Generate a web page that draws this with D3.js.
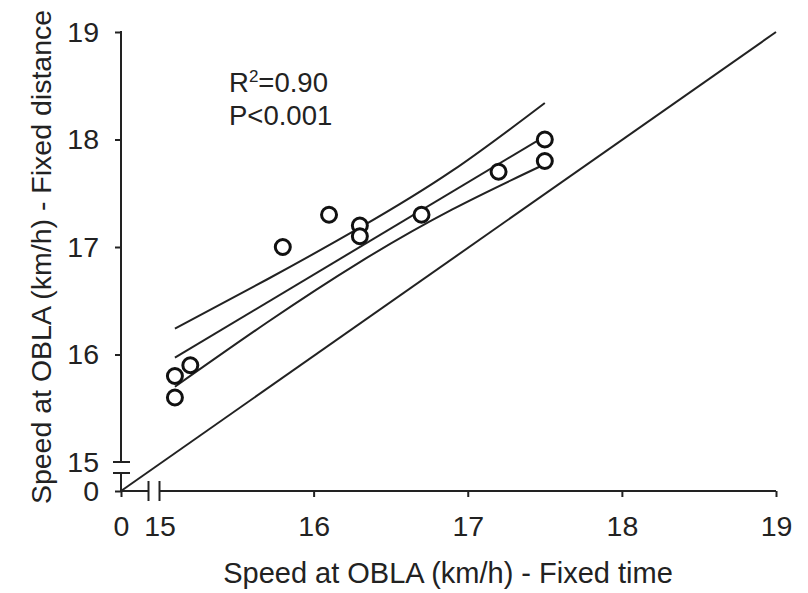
<!DOCTYPE html>
<html>
<head>
<meta charset="utf-8">
<script src="https://cdn.jsdelivr.net/npm/d3@7"></script>
<style>
  body { margin: 0; background: #fff; }
  svg text { font-family: "Liberation Sans", Arial, sans-serif; fill: #222; }
</style>
</head>
<body>
<div id="chart"></div>
<script>
// speeds
const timeVals = [15.1, 15.1, 15.2, 15.8, 16.1, 16.3, 16.3, 16.7, 17.2, 17.5, 17.5];
const distVals = [15.6, 15.8, 15.9, 17.0, 17.3, 17.2, 17.1, 17.3, 17.7, 18.0, 17.8];

// regression line and its confidence band
const fitX = [15.1, 17.5];
const fitY = [15.97, 18.03];
const bandX = [15.1, 15.7, 16.3, 16.9, 17.5];
const bandUpper = [16.24, 16.70, 17.18, 17.71, 18.34];
const bandLower = [15.70, 16.30, 16.86, 17.35, 17.77];

// line of identity
const identX = [0, 19];
const identY = [0, 19];

const xTicks = [0, 15, 16, 17, 18, 19];
const yTicks = [0, 15, 16, 17, 18, 19];

const width = 808, height = 593;
const ink = "#222";

const svg = d3.select("#chart").append("svg")
    .attr("width", width)
    .attr("height", height);

// broken axes: 0 sits at the corner, 15..19 is the real range
const x = d3.scaleLinear().domain([0, 15, 19]).range([121, 159.5, 776]);
const y = d3.scaleLinear().domain([0, 15, 19]).range([491, 462, 32]);

const xAxis = d3.axisBottom(x).tickValues(xTicks).tickSize(6).tickSizeOuter(0).tickPadding(19);
const yAxis = d3.axisLeft(y).tickValues(yTicks).tickSize(6).tickSizeOuter(0).tickPadding(16);

const gx = svg.append("g")
    .attr("transform", "translate(0," + y(0) + ")")
    .call(xAxis);
const gy = svg.append("g")
    .attr("transform", "translate(" + x(0) + ",0)")
    .call(yAxis);

[gx, gy].forEach(function(g) {
    g.select(".domain").remove();
    g.selectAll(".tick line").attr("stroke", ink).attr("stroke-width", 2);
    g.selectAll(".tick text").attr("font-size", 28.5).attr("fill", ink);
    // the break marks stand in for the 15 tick
    g.selectAll(".tick").filter(function(d) { return d === 15; }).select("line").remove();
});

// axis lines with gaps
const xb = x(15);
const yb = y(15);
const segs = [
    [x(0), y(0), xb - 11, y(0)],
    [xb, y(0), x(19), y(0)],
    [x(0), y(0), x(0), yb + 11],
    [x(0), yb, x(0), y(19) - 1]
];
svg.selectAll(".axisSeg").data(segs).enter().append("line")
    .attr("x1", d => d[0]).attr("y1", d => d[1])
    .attr("x2", d => d[2]).attr("y2", d => d[3])
    .attr("stroke", ink).attr("stroke-width", 2);

// break marks
const marks = [
    [xb - 11, y(0) - 10, xb - 11, y(0) + 10],
    [xb, y(0) - 10, xb, y(0) + 10],
    [x(0) - 8, yb, x(0) + 9, yb],
    [x(0) - 8, yb + 11, x(0) + 9, yb + 11]
];
svg.selectAll(".breakMark").data(marks).enter().append("line")
    .attr("x1", d => d[0]).attr("y1", d => d[1])
    .attr("x2", d => d[2]).attr("y2", d => d[3])
    .attr("stroke", ink).attr("stroke-width", 2);

// identity
svg.append("path")
    .datum(identX.map((v, i) => [v, identY[i]]))
    .attr("fill", "none").attr("stroke", ink).attr("stroke-width", 2)
    .attr("d", d3.line().x(d => x(d[0])).y(d => y(d[1])));

// fit and band
const curve = d3.line().x(d => x(d[0])).y(d => y(d[1])).curve(d3.curveNatural);
[bandUpper, bandLower].forEach(function(arr) {
    svg.append("path")
        .datum(bandX.map((v, i) => [v, arr[i]]))
        .attr("fill", "none").attr("stroke", ink).attr("stroke-width", 2)
        .attr("d", curve);
});
svg.append("path")
    .datum(fitX.map((v, i) => [v, fitY[i]]))
    .attr("fill", "none").attr("stroke", ink).attr("stroke-width", 2)
    .attr("d", curve);

// points
svg.selectAll(".pt").data(timeVals).enter().append("circle")
    .attr("cx", d => x(d))
    .attr("cy", (d, i) => y(distVals[i]))
    .attr("r", 7.5)
    .attr("fill", "#fff")
    .attr("stroke", "#111")
    .attr("stroke-width", 3);

// stats
const stat = svg.append("text").attr("x", 229).attr("y", 92).attr("font-size", 27.5);
stat.append("tspan").text("R");
stat.append("tspan").attr("font-size", 17).attr("dy", -10).text("2");
stat.append("tspan").attr("dy", 10).text("=0.90");
svg.append("text").attr("x", 229).attr("y", 125).attr("font-size", 27.5).text("P<0.001");

// axis titles
svg.append("text")
    .attr("x", 448).attr("y", 583)
    .attr("text-anchor", "middle")
    .attr("font-size", 29)
    .text("Speed at OBLA (km/h) - Fixed time");

svg.append("text")
    .attr("transform", "translate(51,257) rotate(-90)")
    .attr("text-anchor", "middle")
    .attr("font-size", 28.5)
    .text("Speed at OBLA (km/h) - Fixed distance");
</script>
</body>
</html>
